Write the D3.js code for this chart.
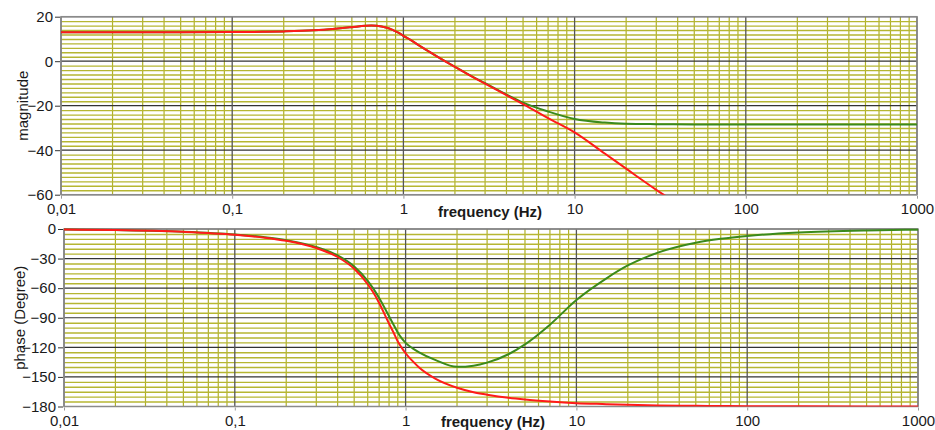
<!DOCTYPE html>
<html>
<head>
<meta charset="utf-8">
<script src="https://cdn.jsdelivr.net/npm/d3@7"></script>
<style>
    body { margin: 0; background: #fff; font-family: "Liberation Sans", Arial, sans-serif; }
    svg { display: block; }
</style>
</head>
<body>
<div id="container"><svg></svg></div>
<script>
let width = 935;
let height = 430;

// frequency points (Hz)
let freqs = [0.01, 0.02, 0.05, 0.1, 0.15, 0.2, 0.3, 0.4, 0.5, 0.6, 0.65, 0.7, 0.8, 0.85, 0.9, 0.95, 1, 1.1, 1.2, 1.5, 2, 2.5, 3, 4, 5, 7, 10, 15, 20, 30, 50, 70, 100, 200, 500, 1000];

// magnitude (dB)
let magRed = [13, 13, 13, 13.1, 13.2, 13.4, 13.9, 14.6, 15.3, 15.9, 16, 15.9, 15, 14.3, 13.4, 12.5, 11.4, 9.6, 7.7, 3.1, -2.6, -6.8, -10.1, -15.3, -19.3, -25.6, -32, -41.5, -48.3, -57.8, -69, -77, -85, -100, -120, -135];
let magGreen = [13, 13, 13, 13.1, 13.2, 13.4, 13.9, 14.6, 15.3, 15.9, 16, 15.9, 15, 14.3, 13.4, 12.5, 11.4, 9.6, 7.7, 3.1, -2.5, -6.7, -9.9, -15.0, -18.6, -22.6, -26, -27.6, -28.1, -28.3, -28.4, -28.4, -28.4, -28.4, -28.4, -28.4];

// phase (Degree)
let phaseRed = [-0.6, -1.1, -2.9, -5.8, -8.8, -12, -19.3, -28.4, -40.4, -56, -65, -75, -96, -105, -114, -120.5, -126, -134, -140.5, -152, -161, -165.5, -168, -171.2, -173, -175, -176.6, -177.6, -178.3, -178.9, -179.3, -179.5, -179.7, -179.8, -179.9, -180];
let phaseGreen = [-0.5, -1.1, -2.7, -5.5, -8.4, -11.4, -18.3, -26.8, -38, -52.5, -61, -70, -88.5, -97, -105, -111, -115.5, -121, -125, -133, -139.8, -138.6, -135.5, -127, -117, -97, -72, -50, -37, -24, -14, -10, -7, -3.5, -1.4, -0.7];

let xTicks = [0.01, 0.1, 1, 10, 100, 1000];
let xTickLabels = ['0,01', '0,1', '1', '10', '100', '1000'];
let magTicks = [20, 0, -20, -40, -60];
let phaseTicks = [0, -30, -60, -90, -120, -150, -180];

let svg = d3.select('#container').select('svg')
    .attr('width', width)
    .attr('height', height);

function draw_panel(opt) {
    let x = d3.scaleLog().domain([0.01, 1000]).range([opt.left, opt.right]);
    let y = d3.scaleLinear().domain(opt.domain).range([opt.bottom, opt.top]);
    let g = svg.append('g');

    // minor vertical grid (2..9 per decade)
    let minorX = [];
    for (let d = 0.01; d < 1000; d *= 10) {
        for (let k = 2; k <= 9; k++) minorX.push(d * k);
    }
    g.append('g').selectAll('line')
        .data(minorX).enter().append('line')
        .attr('x1', d => x(d)).attr('x2', d => x(d))
        .attr('y1', opt.top).attr('y2', opt.bottom)
        .attr('stroke', '#b0b02a').attr('stroke-width', 1.2);

    // minor horizontal grid
    let minorY = d3.range(opt.domain[0], opt.domain[1] + 0.001, opt.minorStep)
        .filter(v => opt.ticks.indexOf(v) < 0);
    g.append('g').selectAll('line')
        .data(minorY).enter().append('line')
        .attr('x1', opt.left).attr('x2', opt.right)
        .attr('y1', d => y(d) + 0.5).attr('y2', d => y(d) + 0.5)
        .attr('stroke', '#b6b632').attr('stroke-width', 1.4);

    // major grid
    g.append('g').selectAll('line')
        .data(opt.ticks).enter().append('line')
        .attr('x1', opt.left).attr('x2', opt.right)
        .attr('y1', d => y(d)).attr('y2', d => y(d))
        .attr('stroke', '#333').attr('stroke-width', 1.2);
    g.append('g').selectAll('line')
        .data(xTicks).enter().append('line')
        .attr('x1', d => x(d)).attr('x2', d => x(d))
        .attr('y1', opt.top).attr('y2', opt.bottom)
        .attr('stroke', '#555').attr('stroke-width', 1.3);

    // frame
    g.append('rect')
        .attr('x', opt.left).attr('y', opt.top)
        .attr('width', opt.right - opt.left).attr('height', opt.bottom - opt.top)
        .attr('fill', 'none').attr('stroke', '#8a8a8a').attr('stroke-width', 1.5);

    // curves
    let clipId = 'clip' + opt.name;
    svg.append('clipPath').attr('id', clipId)
        .append('rect')
        .attr('x', opt.left).attr('y', opt.top - 1)
        .attr('width', opt.right - opt.left).attr('height', opt.bottom - opt.top + 1);
    let line = d3.line()
        .x((d, i) => x(freqs[i]))
        .y(d => y(d))
        .curve(d3.curveMonotoneX);
    g.append('path').datum(opt.green)
        .attr('d', line).attr('clip-path', `url(#${clipId})`)
        .attr('fill', 'none').attr('stroke', '#3a8a1c').attr('stroke-width', 2);
    g.append('path').datum(opt.red)
        .attr('d', line).attr('clip-path', `url(#${clipId})`)
        .attr('fill', 'none').attr('stroke', '#ff1a1a').attr('stroke-width', 2);

    // y axis
    let axis_y = d3.axisLeft(y).tickValues(opt.ticks).tickSize(5).tickPadding(2);
    g.append('g')
        .attr('transform', `translate(${opt.left - 1}, 0)`)
        .call(axis_y)
        .call(a => a.select('.domain').remove())
        .attr('font-family', '"Liberation Sans", Arial, sans-serif')
        .attr('font-size', 15)
        .call(a => a.selectAll('text').attr('fill', '#1a1a1a'))
        .call(a => a.selectAll('line').attr('stroke', '#333'));

    // x axis
    let axis_x = d3.axisBottom(x).tickValues(xTicks)
        .tickFormat((d, i) => xTickLabels[i]).tickSize(3).tickPadding(5);
    g.append('g')
        .attr('transform', `translate(0, ${opt.bottom + 1})`)
        .call(axis_x)
        .call(a => a.select('.domain').remove())
        .attr('font-family', '"Liberation Sans", Arial, sans-serif')
        .attr('font-size', 15)
        .call(a => a.selectAll('text').attr('fill', '#1a1a1a'))
        .call(a => a.selectAll('line').attr('stroke', '#999'));

    g.append('text')
        .attr('x', opt.xlabelX).attr('y', opt.xlabelY)
        .attr('text-anchor', 'middle')
        .attr('dominant-baseline', 'central')
        .attr('font-size', 15).attr('font-weight', 'bold').attr('fill', '#1a1a1a')
        .text('frequency (Hz)');

    g.append('text')
        .attr('transform', `translate(${opt.ylabelX}, ${(opt.top + opt.bottom) / 2}) rotate(-90)`)
        .attr('text-anchor', 'middle')
        .attr('font-size', 15).attr('fill', '#1a1a1a')
        .text(opt.ylabel);
}

draw_panel({
    name: 'mag', left: 61, right: 917, top: 16.7, bottom: 194.7,
    domain: [-60, 20], ticks: magTicks, minorStep: 2,
    red: magRed, green: magGreen,
    ylabel: 'magnitude', ylabelX: 28, xlabelX: 490, xlabelY: 211
});

draw_panel({
    name: 'phase', left: 64, right: 918, top: 229, bottom: 406.5,
    domain: [-180, 0], ticks: phaseTicks, minorStep: 5,
    red: phaseRed, green: phaseGreen,
    ylabel: 'phase (Degree)', ylabelX: 25, xlabelX: 493, xlabelY: 421
});
</script>
</body>
</html>
